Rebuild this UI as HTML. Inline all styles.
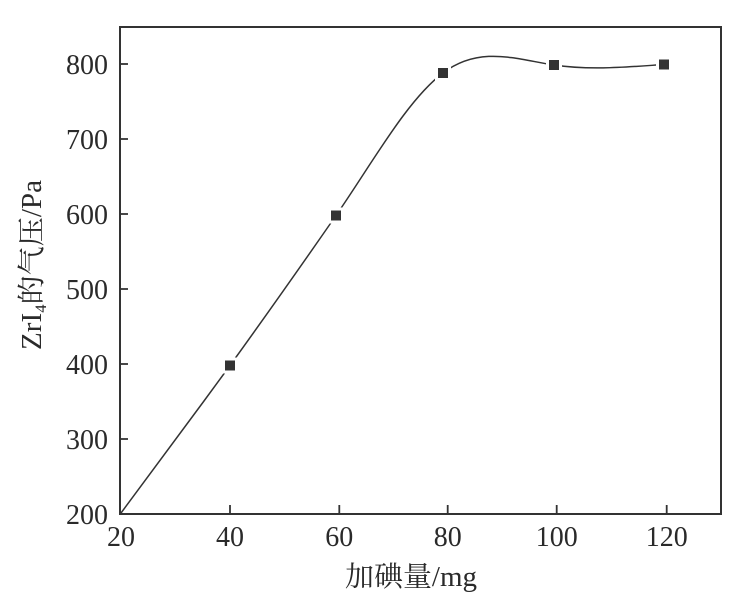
<!DOCTYPE html>
<html>
<head>
<meta charset="utf-8">
<style>
  html, body { margin: 0; padding: 0; background: #fff; }
  svg { display: block; }
  text { font-family: "Liberation Serif", "Noto Serif CJK SC", serif; fill: #2a2a2a; }
</style>
</head>
<body>
<svg width="731" height="605" viewBox="0 0 731 605" xmlns="http://www.w3.org/2000/svg">
  <rect x="0" y="0" width="731" height="605" fill="#fff"/>

  <!-- curve -->
  <path d="M121,513 C157,464 194,415 230,365.5 C265,317 301,266 336,215.5 C372,163.5 407,100 443,73 C480,45 517,59.5 554,65 C591,70.5 627,67 664,64.5"
        fill="none" stroke="#333" stroke-width="1.5"/>

  <!-- marker gaps -->
  <g fill="#fff">
    <rect x="222" y="357.5" width="16" height="16"/>
    <rect x="328" y="207.5" width="16" height="16"/>
    <rect x="435" y="65" width="16" height="16"/>
    <rect x="546" y="57" width="16" height="16"/>
    <rect x="656" y="56.5" width="16" height="16"/>
  </g>
  <!-- markers -->
  <g fill="#333">
    <rect x="225" y="360.5" width="10" height="10"/>
    <rect x="331" y="210.5" width="10" height="10"/>
    <rect x="438" y="68" width="10" height="10"/>
    <rect x="549" y="60" width="10" height="10"/>
    <rect x="659" y="59.5" width="10" height="10"/>
  </g>

  <!-- axes frame -->
  <rect x="120" y="27" width="601" height="487" fill="none" stroke="#333" stroke-width="2"/>

  <!-- y ticks -->
  <g stroke="#333" stroke-width="1.8">
    <line x1="120" y1="64" x2="128" y2="64"/>
    <line x1="120" y1="139" x2="128" y2="139"/>
    <line x1="120" y1="214" x2="128" y2="214"/>
    <line x1="120" y1="289" x2="128" y2="289"/>
    <line x1="120" y1="364" x2="128" y2="364"/>
    <line x1="120" y1="439" x2="128" y2="439"/>
  </g>
  <!-- x ticks -->
  <g stroke="#333" stroke-width="1.8">
    <line x1="230" y1="514" x2="230" y2="505"/>
    <line x1="339.3" y1="514" x2="339.3" y2="505"/>
    <line x1="447.7" y1="514" x2="447.7" y2="505"/>
    <line x1="556.7" y1="514" x2="556.7" y2="505"/>
    <line x1="666.7" y1="514" x2="666.7" y2="505"/>
  </g>

  <!-- y tick labels -->
  <g font-size="28" text-anchor="end">
    <text x="108" y="74">800</text>
    <text x="108" y="149">700</text>
    <text x="108" y="224">600</text>
    <text x="108" y="299">500</text>
    <text x="108" y="374">400</text>
    <text x="108" y="449">300</text>
    <text x="108" y="524">200</text>
  </g>

  <!-- x tick labels -->
  <g font-size="28" text-anchor="middle">
    <text x="121" y="546">20</text>
    <text x="230" y="546">40</text>
    <text x="339.3" y="546">60</text>
    <text x="447.7" y="546">80</text>
    <text x="556.7" y="546">100</text>
    <text x="666.7" y="546">120</text>
  </g>

  <!-- x axis title -->
  <text x="345" y="586" font-size="28" textLength="132" lengthAdjust="spacingAndGlyphs">加碘量/mg</text>

  <!-- y axis title -->
  <g transform="translate(41,265) rotate(-90)">
    <text x="-85" y="0" font-size="28" textLength="170" lengthAdjust="spacingAndGlyphs">ZrI<tspan font-size="16" dy="5">4</tspan><tspan dy="-5">的气压/Pa</tspan></text>
  </g>
</svg>
</body>
</html>
